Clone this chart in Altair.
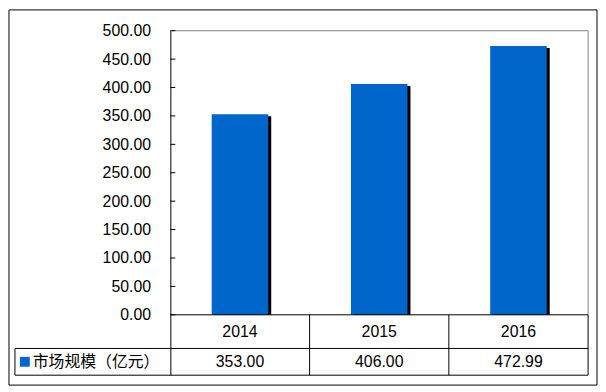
import altair as alt
import pandas as pd

years = ["2014", "2015", "2016"]
values = [353.00, 406.00, 472.99]
series_name = "市场规模（亿元）"
y_ticks = [0, 50, 100, 150, 200, 250, 300, 350, 400, 450, 500]

BLUE = "#0066CC"
Y_MIN = -106.3
ROW = -59.2
X_LEFT = -1.116
HEAD_Y = -29.6
VAL_Y = -82.7

df = pd.DataFrame({"year": years, "value": values, "pos": [i + 0.5 for i in range(len(years))]})
df["x0"] = df["pos"] - 0.203
df["x1"] = df["pos"] + 0.203
df["zero"] = 0
df["hy"] = HEAD_Y
df["vy"] = VAL_Y

xs = alt.Scale(domain=[0, 3], nice=False, zero=False)
ys = alt.Scale(domain=[Y_MIN, 500], nice=False, zero=False)

AX = alt.Axis(values=y_ticks, format=".2f", title="", grid=False,
              tickSize=0, labelPadding=20, labelFontSize=16,
              labelFont="Liberation Sans", labelColor="#000000",
              labelOverlap=False, domainColor="#000000", domainWidth=1)

one = alt.Chart(pd.DataFrame({"a": [0], "vy": [VAL_Y], "name": [series_name]}))

outer = one.mark_rect(fill=None, stroke="#000000", strokeWidth=1).encode(
    x=alt.value(-163), x2=alt.value(431), y=alt.value(-21), y2=alt.value(358)
)

# plot frame (gray) and table grid (black)
frame = pd.DataFrame({
    "x": [0, 3], "x2": [3, 3], "y": [500, 500], "y2": [500, 0]
})
grid = pd.DataFrame({
    "x": [0, X_LEFT, X_LEFT, 1, 2, 3, X_LEFT],
    "x2": [3, 3, 3, 1, 2, 3, X_LEFT],
    "y": [0, ROW, Y_MIN, 0, 0, 0, ROW],
    "y2": [0, ROW, Y_MIN, Y_MIN, Y_MIN, Y_MIN, Y_MIN],
})

def Xq(f):
    return alt.X(f, scale=xs, axis=None)

def Yq(f):
    return alt.Y(f, scale=ys, axis=AX)

frame_l = alt.Chart(frame).mark_rule(color="#868686", strokeWidth=1).encode(
    x=Xq("x:Q"), x2="x2:Q", y=Yq("y:Q"), y2="y2:Q",
)
grid_l = alt.Chart(grid).mark_rule(color="#000000", strokeWidth=1).encode(
    x=Xq("x:Q"), x2="x2:Q", y=Yq("y:Q"), y2="y2:Q",
)

base = alt.Chart(df)

shadow = base.mark_rect(color="#000000", xOffset=3, x2Offset=3, yOffset=2, y2Offset=0).encode(
    x=Xq("x0:Q"), x2="x1:Q", y=Yq("value:Q"), y2="zero:Q",
)
bars = base.mark_rect(color=BLUE).encode(
    x=Xq("x0:Q"), x2="x1:Q", y=Yq("value:Q"), y2="zero:Q",
)

ticks = alt.Chart(pd.DataFrame({"t": y_ticks})).mark_rule(color="#000000").encode(
    x=alt.value(0), x2=alt.value(5), y=Yq("t:Q")
)

year_txt = base.mark_text(fontSize=16, font="Liberation Sans", color="#000000",
                          baseline="middle").encode(
    x=Xq("pos:Q"), y=Yq("hy:Q"), text="year:N"
)
val_txt = base.mark_text(fontSize=16, font="Liberation Sans", color="#000000",
                         baseline="middle").encode(
    x=Xq("pos:Q"), y=Yq("vy:Q"), text=alt.Text("value:Q", format=".2f")
)

legend_sq = one.mark_square(color=BLUE, size=100, opacity=1).encode(
    x=alt.value(-147), y=Yq("vy:Q")
)
legend_txt = one.mark_text(fontSize=16, font="Noto Sans CJK SC", color="#000000",
                           align="left", baseline="middle").encode(
    x=alt.value(-139), y=Yq("vy:Q"), text="name:N"
)

chart = alt.layer(
    outer, frame_l, shadow, bars, grid_l, ticks, year_txt, val_txt, legend_sq, legend_txt
).properties(
    width=422, height=348,
    autosize=alt.AutoSizeParams(type="none"),
    padding={"left": 164, "top": 21, "right": 10, "bottom": 12},
).configure_view(strokeWidth=0)

chart.save("out.html", embed_options={"renderer": "svg", "actions": False})
